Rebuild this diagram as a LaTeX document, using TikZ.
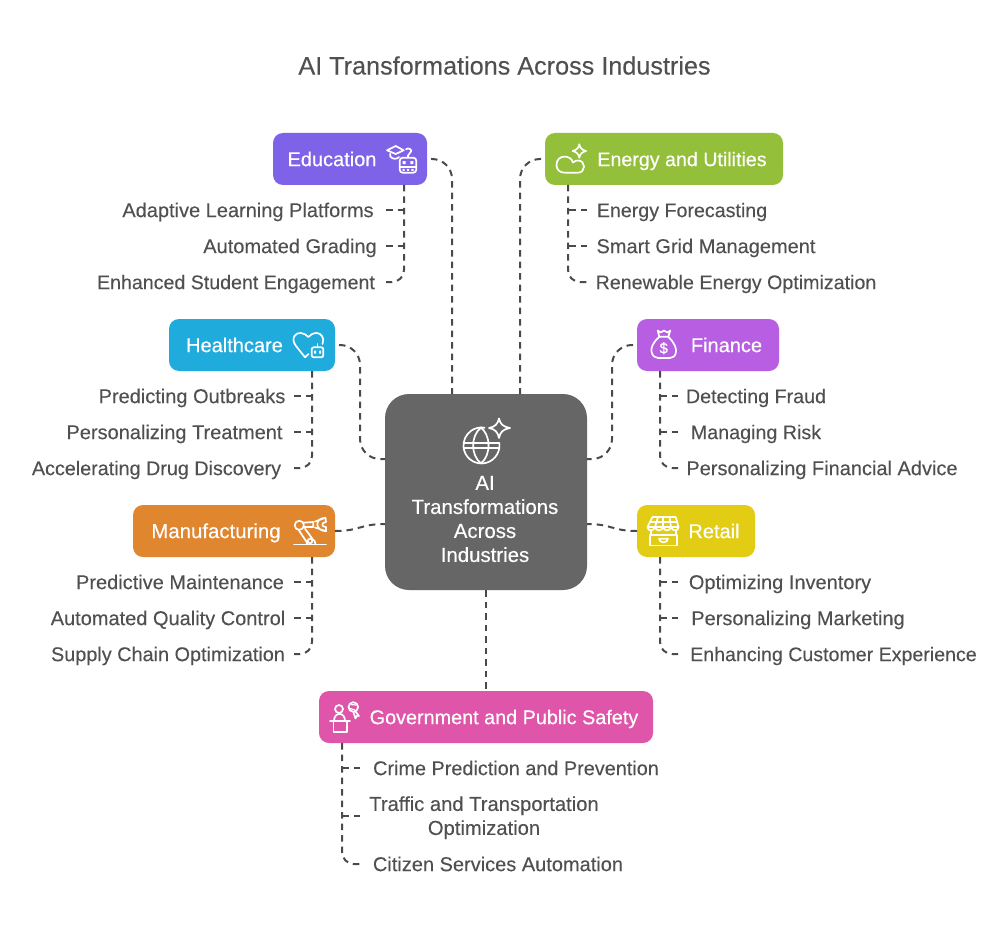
\documentclass[tikz,border=0pt]{standalone}
\usepackage{fontspec}
\setmainfont{Liberation Sans}
\newfontfamily\labfont[FakeBold=0.35]{Liberation Sans}
\newfontfamily\itemfont[FakeBold=0.12]{Liberation Sans}
\definecolor{ink}{HTML}{4A4A4A}
\definecolor{txt}{HTML}{505050}
\definecolor{cedu}{HTML}{7E63E8}
\definecolor{cene}{HTML}{93BF3A}
\definecolor{chea}{HTML}{1FABDC}
\definecolor{cfin}{HTML}{B75EE3}
\definecolor{cman}{HTML}{E0862F}
\definecolor{cret}{HTML}{E2CD14}
\definecolor{cgov}{HTML}{DF55A9}
\definecolor{ccor}{HTML}{666666}
\tikzset{
  x=1pt,y=-1pt,
  box/.style={rounded corners=10pt,minimum height=52pt,inner sep=0pt,outer sep=0pt},
  lab/.style={text=white,font=\labfont\fontsize{#1}{24}\selectfont,inner sep=0pt,text height=14.2pt,text depth=0pt},
  lab/.default=20,
  item/.style={text=txt,font=\itemfont\fontsize{#1}{24}\selectfont,inner sep=0pt,text height=14.2pt,text depth=0pt},
  item/.default=20,
  conn/.style={draw=ink,line width=2pt,dash pattern=on 6.5pt off 5pt},
  ico/.style={draw=white,line width=1.7pt,line cap=round,line join=round},
}
\begin{document}
\begin{tikzpicture}
\useasboundingbox[fill=white] (0,0) rectangle (1008,925);
\node[text=txt,font=\itemfont\fontsize{25.2}{28}\selectfont,inner sep=0pt] (title) at (504.5,65.5) {AI Transformations Across Industries};
% boxes
\node[box,fill=ccor,rounded corners=24pt,minimum width=202pt,minimum height=196pt] (core) at (486,492) {};
\node[box,fill=cedu,minimum width=154pt] (edu) at (350,159) {};
\node[box,fill=cene,minimum width=238pt] (ene) at (664,159) {};
\node[box,fill=chea,minimum width=166pt] (hea) at (252,345) {};
\node[box,fill=cfin,minimum width=142pt] (fin) at (708,345) {};
\node[box,fill=cman,minimum width=202pt] (man) at (234,531) {};
\node[box,fill=cret,minimum width=118pt] (ret) at (696,531) {};
\node[box,fill=cgov,minimum width=334pt] (gov) at (486,717) {};
% labels
\node[lab] (ledu) at (332,159) {Education};
\node[lab=19.65] (lene) at (682,159) {Energy and Utilities};
\node[lab] (lhea) at (234.5,345) {Healthcare};
\node[lab] (lfin) at (726.5,345) {Finance};
\node[lab=20.4] (lman) at (216,531) {Manufacturing};
\node[lab] (lret) at (714,531) {Retail};
\node[lab=19.8] (lgov) at (504,717) {Government and Public Safety};
\node[text=white,font=\labfont\fontsize{20.4}{24}\selectfont,inner sep=0pt,align=center] (lcor) at (485,519) {AI\\Transformations\\Across\\Industries};
% items
\node[item] (e1) at (248,210) {Adaptive Learning Platforms};
\node[item] (e2) at (290,246) {Automated Grading};
\node[item=19.6] (e3) at (236,282) {Enhanced Student Engagement};
\node[item=19.65] (n1) at (682,210) {Energy Forecasting};
\node[item] (n2) at (706,246) {Smart Grid Management};
\node[item=19.65] (n3) at (736,282) {Renewable Energy Optimization};
\node[item] (h1) at (192,396) {Predicting Outbreaks};
\node[item] (h2) at (174.5,432) {Personalizing Treatment};
\node[item=19.75] (h3) at (156.5,468) {Accelerating Drug Discovery};
\node[item=19.7] (f1) at (756,396) {Detecting Fraud};
\node[item=19.7] (f2) at (756,432) {Managing Risk};
\node[item] (f3) at (822,468) {Personalizing Financial Advice};
\node[item] (m1) at (180,582) {Predictive Maintenance};
\node[item] (m2) at (168,618) {Automated Quality Control};
\node[item=19.85] (m3) at (168,654) {Supply Chain Optimization};
\node[item] (r1) at (780,582) {Optimizing Inventory};
\node[item] (r2) at (798,618) {Personalizing Marketing};
\node[item=19.6] (r3) at (833.5,654) {Enhancing Customer Experience};
\node[item=19.85] (g1) at (516,768) {Crime Prediction and Prevention};
\node[item=20.2,text height=,text depth=,align=center] (g2) at (484,816) {\rule{0pt}{18pt}Traffic and Transportation\\Optimization};
\node[item] (g3) at (498,864) {Citizen Services Automation};
% trunks
\coordinate (te) at ([xshift=54pt]edu.south);
\coordinate (tn) at ([xshift=-96pt]ene.south);
\coordinate (th) at ([xshift=60pt]hea.south);
\coordinate (tf) at ([xshift=-48pt]fin.south);
\coordinate (tm) at ([xshift=78pt]man.south);
\coordinate (tr) at ([xshift=-36pt]ret.south);
\coordinate (tg) at ([xshift=-144pt]gov.south);
% core links
\draw[conn,rounded corners=20pt] ([xshift=4pt]edu.east) -| ([xshift=-34pt]core.north);
\draw[conn,rounded corners=20pt] ([xshift=-4pt]ene.west) -| ([xshift=34pt]core.north);
\draw[conn,rounded corners=20pt] ([xshift=4pt]hea.east) -| ([xshift=-25pt,yshift=33pt]core.west) -- ([yshift=33pt]core.west);
\draw[conn,rounded corners=20pt] ([xshift=-4pt]fin.west) -| ([xshift=25pt,yshift=33pt]core.east) -- ([yshift=33pt]core.east);
\draw[conn] (man.east) .. controls ([xshift=25pt]man.east) and ([xshift=-25pt,yshift=-32pt]core.west) .. ([yshift=-32pt]core.west);
\draw[conn] (ret.west) .. controls ([xshift=-25pt]ret.west) and ([xshift=25pt,yshift=-32pt]core.east) .. ([yshift=-32pt]core.east);
\draw[conn] (core.south) -- (gov.north);
% branches
\foreach \t/\a/\b/\c/\s in {te/e1/e2/e3/-18pt,tn/n1/n2/n3/19pt,th/h1/h2/h3/-18pt,tf/f1/f2/f3/18pt,tm/m1/m2/m3/-18pt,tr/r1/r2/r3/18pt,tg/g1/g2/g3/18pt}{
  \draw[conn] ([xshift=\s]\t |- \a) -- (\t |- \a);
  \draw[conn] ([xshift=\s]\t |- \b) -- (\t |- \b);
  \draw[conn,rounded corners=12pt] (\t) |- ([xshift=\s]\t |- \c);
}
% icon: education
\draw[ico] (387,150.3) -- (395.7,146) -- (403.7,150.3) -- (395.7,154) -- cycle;
\draw[ico] (390.3,153.7) -- (390.3,156.5) .. controls (392.5,159.5) and (397,159.5) .. (399,157);
\draw[ico] (406,149.3) .. controls (408,147.5) and (412,149) .. (411,151.5) -- (408,155.5) -- (408,157.5);
\draw[ico,rounded corners=3pt] (399.7,157.7) rectangle (416.3,172.7);
\draw[ico] (399.7,167) -- (416.3,167);
\fill[white] (402.7,161.2) rectangle (405.7,164.2) (410.3,161.2) rectangle (413.3,164.2);
\fill[white] (402.5,169) rectangle (404.7,171) (407,169) rectangle (409.2,171) (411.3,169) rectangle (413.5,171);
% icon: energy
\draw[ico] (579.3,144.3) .. controls (580,148) and (582,150) .. (586,151) .. controls (582,152) and (580,154) .. (579.3,157.7) .. controls (578.6,154) and (576.6,152) .. (572.6,151) .. controls (576.6,150) and (578.6,148) .. (579.3,144.3) -- cycle;
\draw[ico] (565,172.7) -- (578,172.7) .. controls (586,172.7) and (586,160.5) .. (578,160.5) .. controls (576,160.5) and (575,161) .. (573,162.5) .. controls (571,154.5) and (556.5,154) .. (556.5,165) .. controls (556.5,170) and (560,172.7) .. (565,172.7) -- cycle;
% icon: healthcare
\draw[ico] (308.5,354) -- (305,357.3) -- (296,346) .. controls (290,338) and (296,332) .. (301,333) .. controls (304,333.3) and (306.5,335) .. (308.3,337) .. controls (310,335) and (313,333) .. (316.7,333) .. controls (321,333) and (325,338) .. (322.5,344);
\draw[ico,rounded corners=2pt] (311.7,347.3) rectangle (323.3,357.3);
\draw[ico] (317.5,344) -- (317.5,347.3);
\fill[white] (314,350.5) rectangle (316,353.5) (319,350.5) rectangle (321,353.5);
% icon: finance
\draw[ico] (657.7,330.5) -- (660.7,332.5) -- (664,330.5) -- (667.3,332.5) -- (670.3,330.5) -- (668.3,336.7) -- (659.3,336.7) -- cycle;
\draw[ico] (659.3,337) .. controls (653,342) and (650.7,348) .. (651.5,351.5) .. controls (652.3,356) and (655,358) .. (658,358) -- (670,358) .. controls (673,358) and (675.7,356) .. (676,351.5) .. controls (676.5,348) and (674,342) .. (668.3,337);
\node[text=white,font=\labfont\fontsize{15}{15}\selectfont,inner sep=0pt] (dollar) at (663.7,348.3) {\$};
% icon: manufacturing
\draw[ico] (294,544.5) -- (326,544.5);
\draw[ico] (299.3,525.3) circle (4.6);
\draw[ico] (298.3,529.5) -- (307,542.5) (305,528.7) -- (313.5,540.3);
\draw[ico] (310,541) circle (2.3);
\draw[ico] (307,544) -- (307,541) (314.5,540.5) -- (315.5,544.5);
\draw[ico] (303.5,522.7) -- (313.3,522) (303.5,527) -- (313.3,527) -- (313.3,522);
\draw[ico] (315,521.5) -- (325.5,517.8) .. controls (314,518) and (315,531) .. (326,531.2) -- (315,527.5);
\draw[ico] (325.5,517.8) -- (326,522) .. controls (321,522.5) and (321,527) .. (326,527) -- (326,531.2);
% icon: retail
\draw[ico] (652.5,517) -- (675.7,517) -- (678.5,527) -- (647.5,527) -- cycle;
\draw[ico] (647.5,527) .. controls (647.5,531.5) and (654,531.5) .. (655,527) .. controls (656,531.5) and (662,531.5) .. (663,527) .. controls (664,531.5) and (670,531.5) .. (671,527) .. controls (672,531.5) and (678.5,531.5) .. (678.5,527);
\draw[ico] (658,517) -- (655,527) (663,517) -- (663,527) (669.5,517) -- (671,527) (650,522) -- (677,522);
\draw[ico] (651,531) -- (651,535) (676,531) -- (676,535);
\draw[ico] (650,535) rectangle (677,545.5);
\draw[ico] (659,538.8) -- (668,538.8) .. controls (667.5,543.5) and (659.5,543.5) .. (659,538.8);
% icon: government
\draw[ico] (339,709) circle (4);
\draw[ico] (334,721) .. controls (334,711.5) and (345,711.5) .. (345,721);
\draw[ico] (330,721.3) -- (350,721.3);
\draw[ico] (333.5,721.3) -- (333.5,732) -- (346.7,732) -- (346.7,721.3);
\draw[ico] (353.3,707) circle (4.8);
\draw[ico,line width=1.2pt] (351,704.5) -- (356,705) (350,708.5) -- (355,710);
\draw[ico] (353.5,712.5) -- (355.5,718.5) -- (357,715.5) -- (359,716) -- (355.5,711.5);
% icon: core
\draw[ico] (499.4,443.9) arc[start angle=-5,end angle=280,radius=18];
\draw[ico] (481,427.5) .. controls (470.5,436) and (470.5,455) .. (481,463.5);
\draw[ico] (481,427.5) .. controls (485,431) and (488.5,437) .. (488.5,445);
\draw[ico] (488.5,445) .. controls (488.5,453) and (486,459) .. (481,463.5);
\draw[ico] (464,442.7) -- (499.5,442.7) (464,448.3) -- (499.5,448.3);
\draw[ico] (499,418.5) .. controls (500.2,424) and (503,426.8) .. (510,428) .. controls (503,429.2) and (500.2,432) .. (499,438) .. controls (497.8,432) and (495,429.2) .. (489,428) .. controls (495,426.8) and (497.8,424) .. (499,418.5) -- cycle;
\end{tikzpicture}
\end{document}
